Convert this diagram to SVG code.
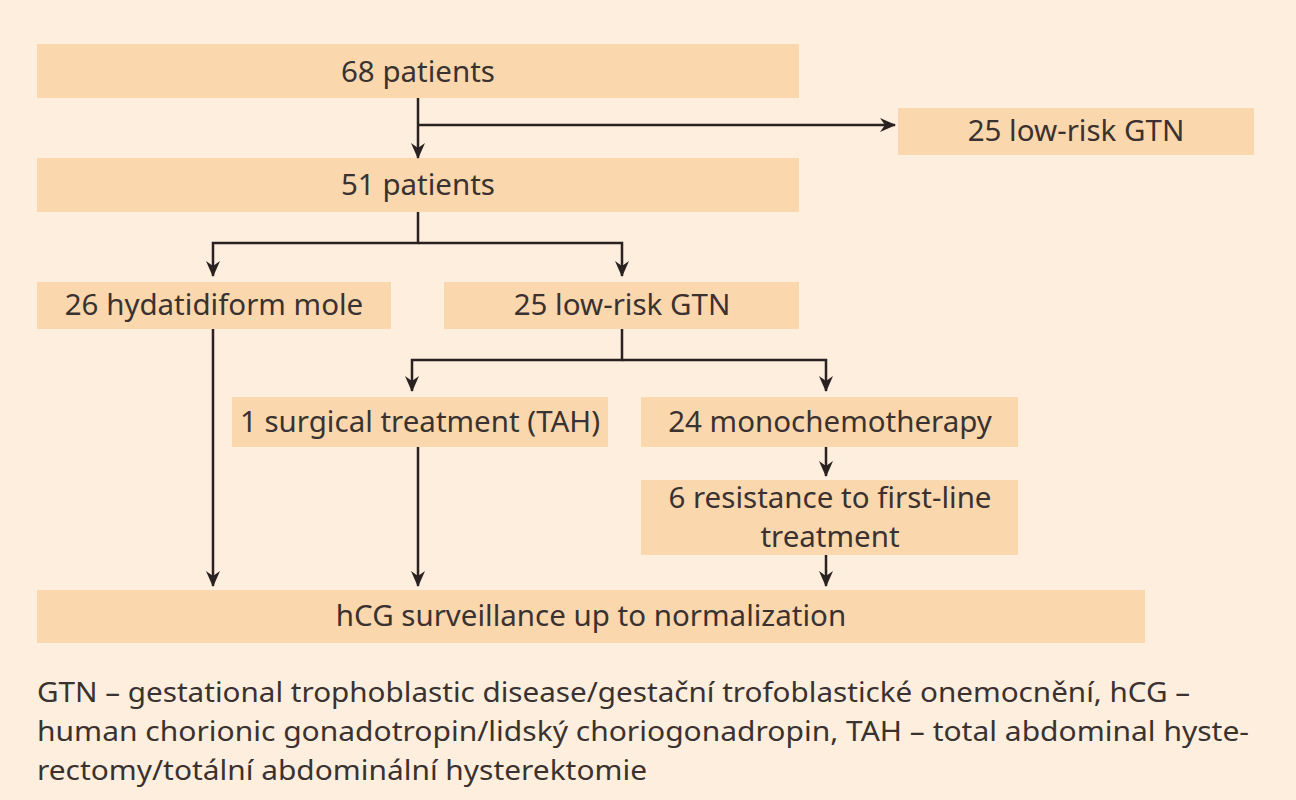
<svg xmlns="http://www.w3.org/2000/svg" width="1296" height="800" viewBox="0 0 1296 800">
<defs>
<style>
.b{fill:#fbd7ae}
.t{font-family:"Noto Sans","Open Sans",sans-serif;font-size:29.5px;fill:#3a3230;text-anchor:middle}
.f{font-family:"Noto Sans","Open Sans",sans-serif;font-size:27px;fill:#3a3230}
.c{stroke:#2a2220;stroke-width:2.5;fill:none}
</style>
<marker id="m" viewBox="0 0 16 16" refX="15" refY="8" markerWidth="16" markerHeight="16" orient="auto" markerUnits="userSpaceOnUse"><path d="M0,1 L16,8 L0,15 L5,8 z" fill="#2a2220"/></marker>
</defs>
<rect width="1296" height="800" fill="#fdeedd"/>
<g id="n1"><rect class="b" x="37" y="44" width="762" height="54"/><text class="t" x="418" y="82">68 patients</text></g>
<g id="n2"><rect class="b" x="898" y="108" width="356" height="47"/><text class="t" x="1076" y="141">25 low-risk GTN</text></g>
<g id="n3"><rect class="b" x="37" y="158" width="762" height="54"/><text class="t" x="418" y="195">51 patients</text></g>
<g id="n4"><rect class="b" x="37" y="282" width="354" height="47"/><text class="t" x="214" y="315">26 hydatidiform mole</text></g>
<g id="n5"><rect class="b" x="444" y="282" width="355" height="47"/><text class="t" x="622" y="315">25 low-risk GTN</text></g>
<g id="n6"><rect class="b" x="232" y="397" width="376" height="50"/><text class="t" x="420" y="432">1 surgical treatment (TAH)</text></g>
<g id="n7"><rect class="b" x="641" y="397" width="377" height="50"/><text class="t" x="830" y="432">24 monochemotherapy</text></g>
<g id="n8"><rect class="b" x="641" y="480" width="377" height="75"/><text class="t" x="830" y="508">6 resistance to first-line</text><text class="t" x="830" y="547">treatment</text></g>
<g id="n9"><rect class="b" x="37" y="590" width="1108" height="53"/><text class="t" x="591" y="626">hCG surveillance up to normalization</text></g>
<g id="connectors" class="c">
<path d="M418,98 V158" marker-end="url(#m)"/>
<path d="M418,125 H895" marker-end="url(#m)"/>
<path d="M418,212 V243 H213 V276" marker-end="url(#m)"/>
<path d="M418,243 H622 V276" marker-end="url(#m)"/>
<path d="M622,329 V360 H412 V391" marker-end="url(#m)"/>
<path d="M622,360 H826 V391" marker-end="url(#m)"/>
<path d="M826,447 V476" marker-end="url(#m)"/>
<path d="M213,329 V586" marker-end="url(#m)"/>
<path d="M418,447 V586" marker-end="url(#m)"/>
<path d="M826,555 V586" marker-end="url(#m)"/>
</g>
<g id="footnote">
<text class="f" x="37" y="702" textLength="1153" lengthAdjust="spacingAndGlyphs">GTN – gestational trophoblastic disease/gestační trofoblastické onemocnění, hCG –</text>
<text class="f" x="37" y="741" textLength="1212" lengthAdjust="spacingAndGlyphs">human chorionic gonadotropin/lidský choriogonadropin, TAH – total abdominal hyste-</text>
<text class="f" x="37" y="780" textLength="610" lengthAdjust="spacingAndGlyphs">rectomy/totální abdominální hysterektomie</text>
</g>
</svg>
